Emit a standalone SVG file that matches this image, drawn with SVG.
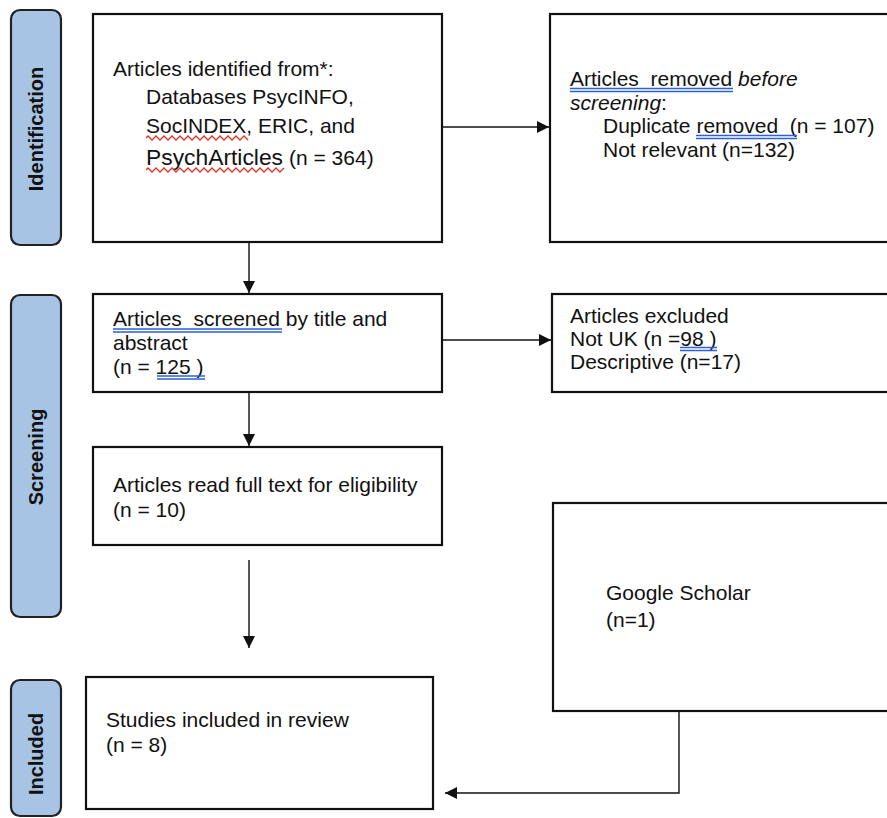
<svg xmlns="http://www.w3.org/2000/svg" width="887" height="818" viewBox="0 0 887 818">
<style>
.bx{fill:#fff;stroke:#111;stroke-width:2.2}
.lab{fill:#a7c4e4;stroke:#222;stroke-width:2.2}
.lt{font-family:"Liberation Sans",Arial,sans-serif;font-weight:bold;font-size:20px;fill:#111}
.t{font-family:"Liberation Sans",Arial,sans-serif;font-size:21px;fill:#111;white-space:pre}
.cn{fill:none;stroke:#111;stroke-width:1.4}
.bl{fill:none;stroke:#2b62d6;stroke-width:1.4}
.rd{fill:none;stroke:#e0392b;stroke-width:1.4}
</style>
<defs>
<marker id="ah" markerUnits="userSpaceOnUse" markerWidth="13" markerHeight="12" refX="12" refY="6" orient="auto">
<path d="M0,0 L12,6 L0,12 z" fill="#111"/>
</marker>
</defs>
<g id="label-identification">
<rect class="lab" x="11" y="10" width="50" height="235" rx="9"/>
<text class="lt" transform="translate(43,129) rotate(-90)" text-anchor="middle">Identification</text>
</g>
<g id="label-screening">
<rect class="lab" x="11" y="295" width="50" height="322" rx="9"/>
<text class="lt" transform="translate(43,457) rotate(-90)" text-anchor="middle">Screening</text>
</g>
<g id="label-included">
<rect class="lab" x="11" y="680" width="50" height="136" rx="9"/>
<text class="lt" transform="translate(43,754) rotate(-90)" text-anchor="middle">Included</text>
</g>
<g id="n-identified">
<rect class="bx" x="93" y="14" width="349" height="228"/>
<text class="t" x="113" y="76">Articles identified from*:</text>
<text class="t" x="146" y="104" font-size="21.5">Databases PsycINFO,</text>
<text class="t" x="146" y="133" font-size="21.5">SocINDEX, ERIC, and</text>
<text class="t" y="165"><tspan x="146" font-size="22" textLength="137" lengthAdjust="spacingAndGlyphs">PsychArticles</tspan><tspan x="289">(n = 364)</tspan></text>
<polyline class="rd" points="146,138 148,136 150,138 152,140 154,138 156,136 158,138 160,140 162,138 164,136 166,138 168,140 170,138 172,136 174,138 176,140 178,138 180,136 182,138 184,140 186,138 188,136 190,138 192,140 194,138 196,136 198,138 200,140 202,138 204,136 206,138 208,140 210,138 212,136 214,138 216,140 218,138 220,136 222,138 224,140 226,138 228,136 230,138 232,140 234,138 236,136 238,138 240,140 242,138 244,136 246,138 248,140"/>
<polyline class="rd" points="146,170 148,168 150,170 152,172 154,170 156,168 158,170 160,172 162,170 164,168 166,170 168,172 170,170 172,168 174,170 176,172 178,170 180,168 182,170 184,172 186,170 188,168 190,170 192,172 194,170 196,168 198,170 200,172 202,170 204,168 206,170 208,172 210,170 212,168 214,170 216,172 218,170 220,168 222,170 224,172 226,170 228,168 230,170 232,172 234,170 236,168 238,170 240,172 242,170 244,168 246,170 248,172 250,170 252,168 254,170 256,172 258,170 260,168 262,170 264,172 266,170 268,168 270,170 272,172 274,170 276,168 278,170 280,172 282,170 284,168"/>
</g>
<g id="n-removed">
<rect class="bx" x="550" y="14" width="360" height="228"/>
<text class="t" x="570" y="86">Articles  removed <tspan font-style="italic">before</tspan></text>
<text class="t" x="570" y="110"><tspan font-style="italic">screening</tspan>:</text>
<text class="t" x="603" y="133">Duplicate removed  (n = 107)</text>
<text class="t" x="603" y="157">Not relevant (n=132)</text>
<path class="bl" d="M570,88.5 H733 M570,91.5 H733 M696,135.5 H797 M696,138.5 H797"/>
</g>
<g id="n-screened">
<rect class="bx" x="93" y="294" width="349" height="98"/>
<text class="t" x="113" y="326">Articles  screened by title and</text>
<text class="t" x="113" y="350">abstract</text>
<text class="t" x="113" y="374">(n = 125 )</text>
<path class="bl" d="M113,329 H282 M113,332 H282 M157,376 H205 M157,379 H205"/>
</g>
<g id="n-excluded">
<rect class="bx" x="552" y="294" width="360" height="98"/>
<text class="t" x="570" y="323">Articles excluded</text>
<text class="t" x="570" y="346">Not UK (n =98 )</text>
<text class="t" x="570" y="369">Descriptive (n=17)</text>
<path class="bl" d="M680,347.5 H717 M680,350.5 H717"/>
</g>
<g id="n-fulltext">
<rect class="bx" x="93" y="447" width="349" height="98"/>
<text class="t" x="113" y="492">Articles read full text for eligibility</text>
<text class="t" x="113" y="517">(n = 10)</text>
</g>
<g id="n-google">
<rect class="bx" x="553" y="503" width="360" height="208"/>
<text class="t" x="606" y="600">Google Scholar</text>
<text class="t" x="606" y="627">(n=1)</text>
</g>
<g id="n-included">
<rect class="bx" x="86" y="677" width="347" height="132"/>
<text class="t" x="106" y="727">Studies included in review</text>
<text class="t" x="106" y="752">(n = 8)</text>
</g>
<g id="connectors">
<path class="cn" d="M443,127 H549" marker-end="url(#ah)"/>
<path class="cn" d="M249,243 V293" marker-end="url(#ah)"/>
<path class="cn" d="M443,340 H551" marker-end="url(#ah)"/>
<path class="cn" d="M249,393 V446" marker-end="url(#ah)"/>
<path class="cn" d="M249,560 V648" marker-end="url(#ah)"/>
<path class="cn" d="M679,712 V793 H445" marker-end="url(#ah)"/>
</g>
</svg>
